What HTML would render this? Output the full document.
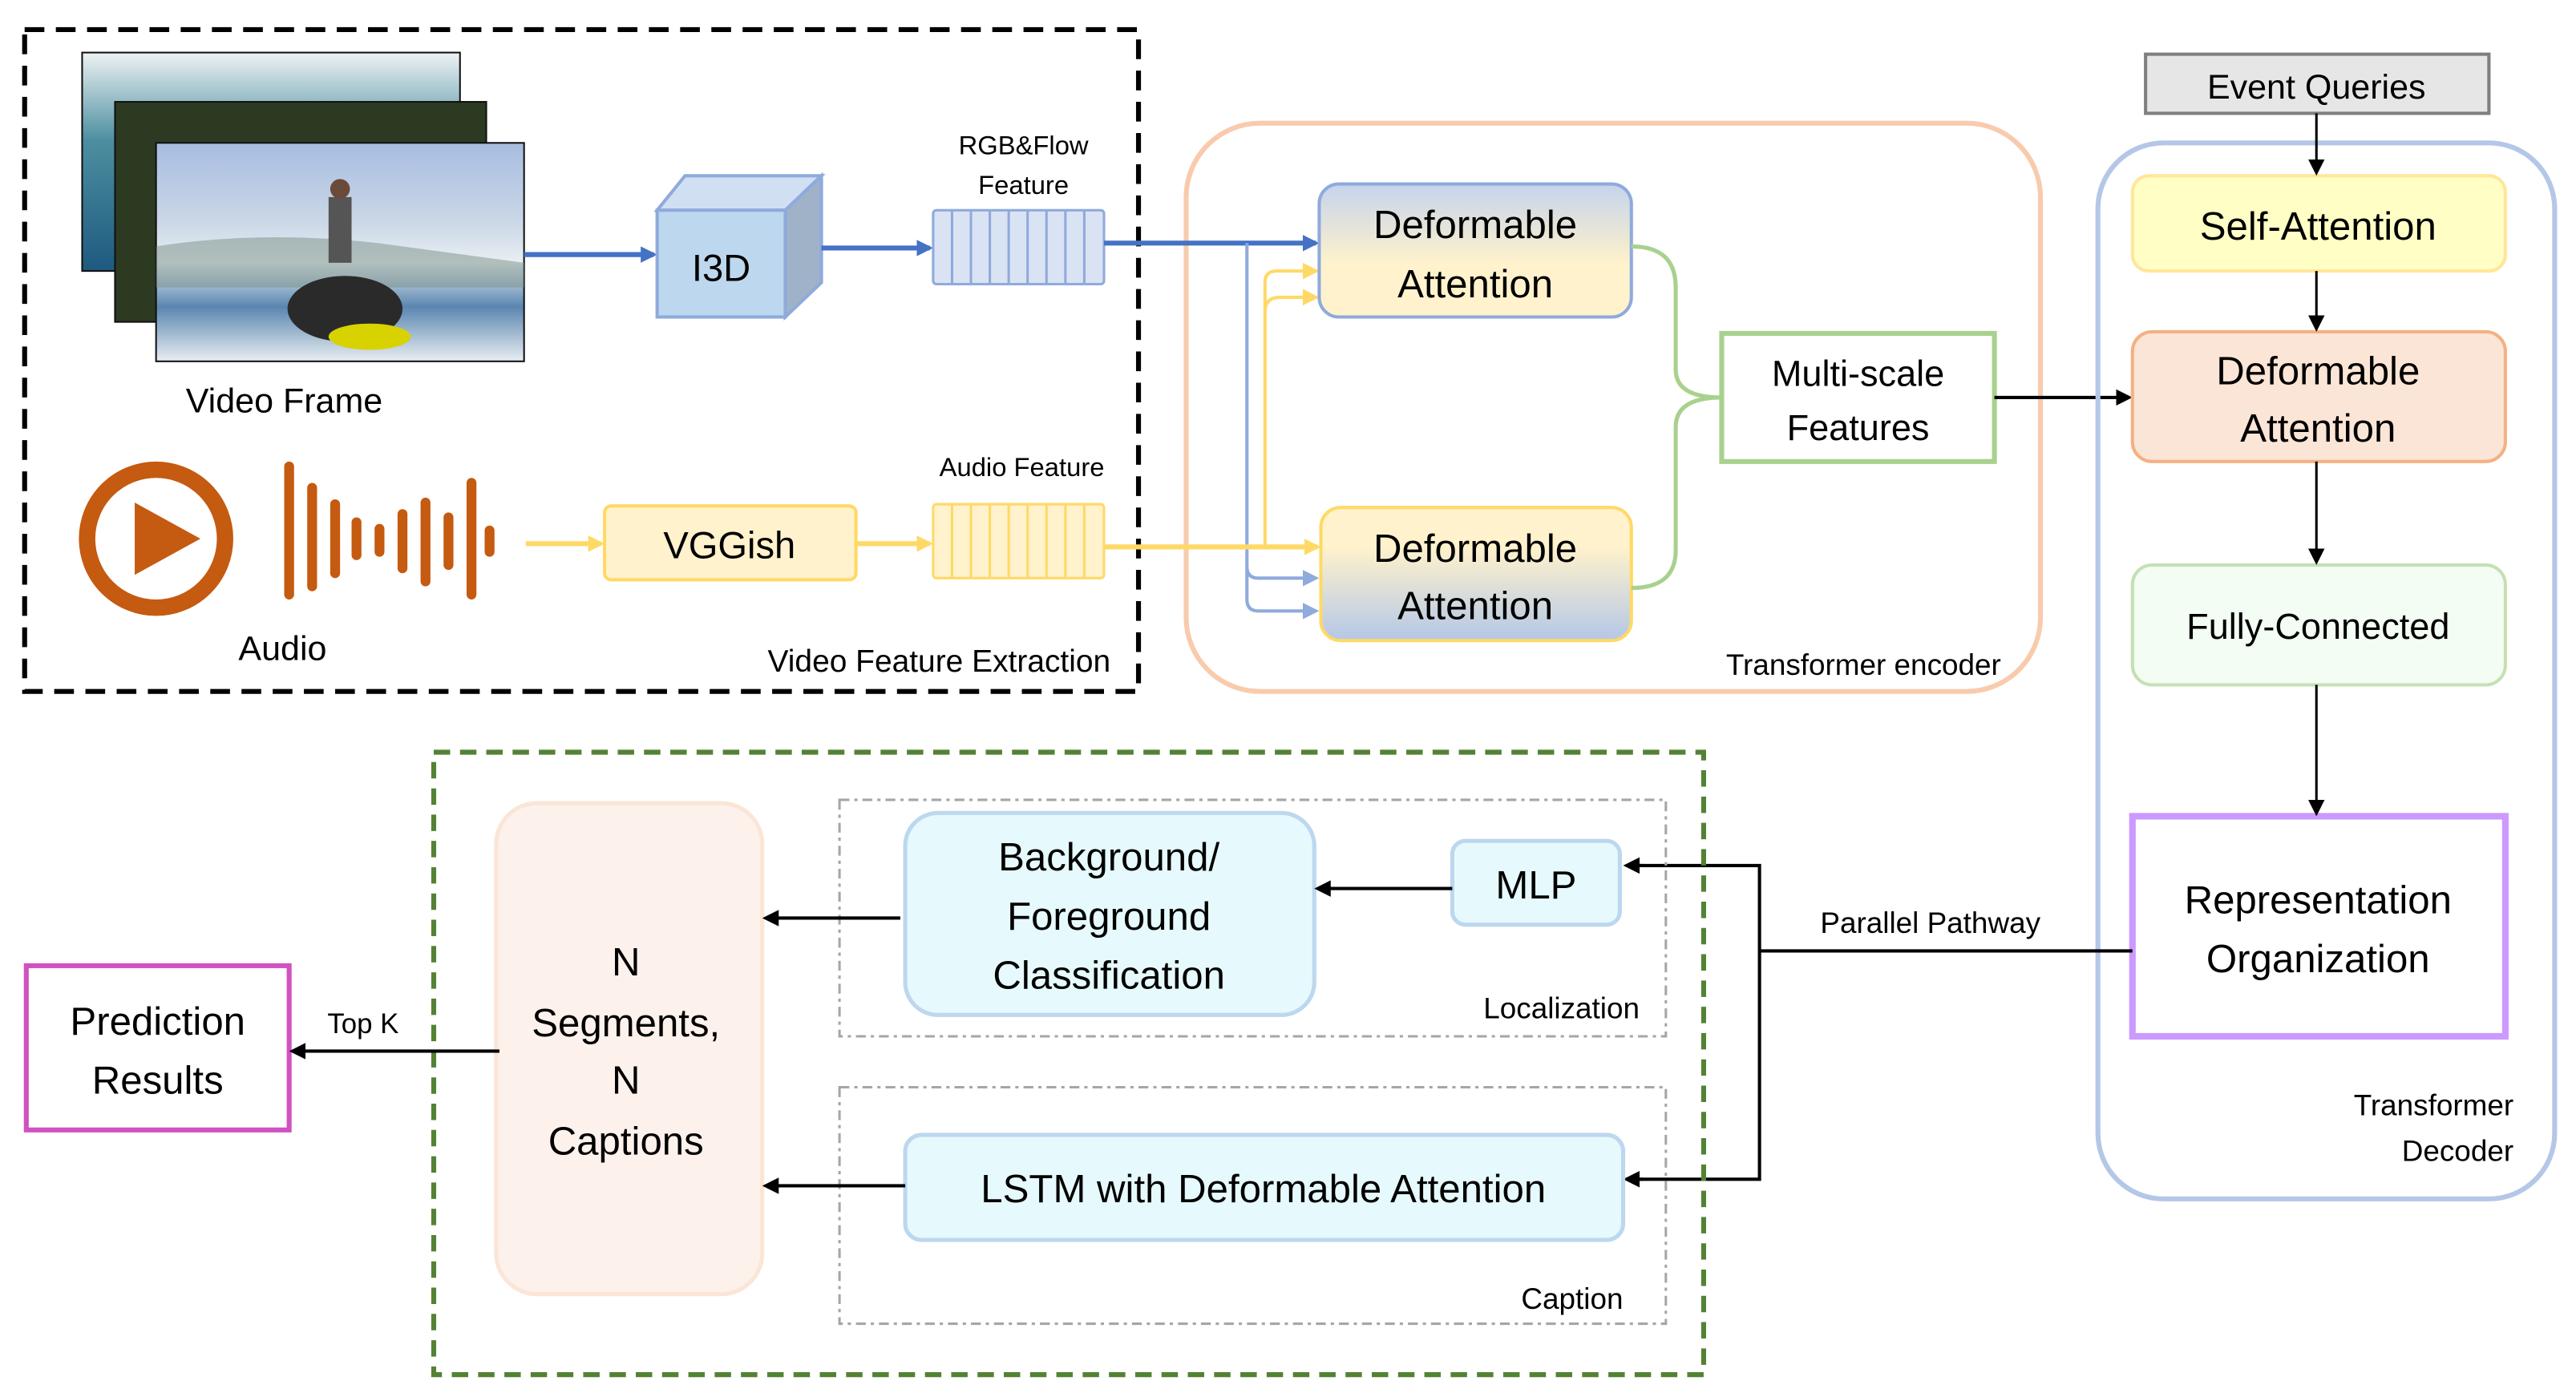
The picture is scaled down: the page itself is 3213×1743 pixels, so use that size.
<!DOCTYPE html>
<html><head><meta charset="utf-8"><style>
html,body{margin:0;padding:0;background:#fff;}
svg{display:block;}
text{font-family:"Liberation Sans",sans-serif;fill:#000;}
</style></head><body>
<svg width="3213" height="1743" viewBox="0 0 1568 850.6" xmlns="http://www.w3.org/2000/svg">
<defs>
<marker id="ab" markerWidth="10" markerHeight="10" refX="8" refY="5" orient="auto" markerUnits="userSpaceOnUse"><path d="M0,0 L10,5 L0,10 z" fill="#4472c4"/></marker>
<marker id="alb" markerWidth="10" markerHeight="10" refX="8" refY="5" orient="auto" markerUnits="userSpaceOnUse"><path d="M0,0 L10,5 L0,10 z" fill="#8faadc"/></marker>
<marker id="ay" markerWidth="10" markerHeight="10" refX="8" refY="5" orient="auto" markerUnits="userSpaceOnUse"><path d="M0,0 L10,5 L0,10 z" fill="#ffd966"/></marker>
<marker id="ak" markerWidth="10" markerHeight="10" refX="8" refY="5" orient="auto" markerUnits="userSpaceOnUse"><path d="M0,0 L10,5 L0,10 z" fill="#000"/></marker>
<linearGradient id="gby" x1="0" y1="0" x2="0" y2="1"><stop offset="0" stop-color="#c5d3ec"/><stop offset="0.6" stop-color="#fff2cc"/></linearGradient>
<linearGradient id="gyb" x1="0" y1="0" x2="0" y2="1"><stop offset="0.3" stop-color="#fff2cc"/><stop offset="1" stop-color="#b4c7e7"/></linearGradient>
<linearGradient id="sky" x1="0" y1="0" x2="0" y2="1"><stop offset="0" stop-color="#a7bde0"/><stop offset="0.35" stop-color="#c9d6e6"/><stop offset="0.55" stop-color="#e8eef3"/><stop offset="0.75" stop-color="#5a86b0"/><stop offset="1" stop-color="#e9eef2"/></linearGradient>
<linearGradient id="surf" x1="0" y1="0" x2="0" y2="1"><stop offset="0" stop-color="#eef2f4"/><stop offset="0.4" stop-color="#4d8fa0"/><stop offset="1" stop-color="#1e5a80"/></linearGradient>
</defs>

<!-- Video feature extraction -->
<rect x="15" y="18" width="678" height="403" fill="none" stroke="#000" stroke-width="3" stroke-dasharray="12,7"/>
<rect x="50" y="32" width="230" height="133" fill="url(#surf)" stroke="#111" stroke-width="1"/>
<rect x="70" y="62" width="226" height="134" fill="#2c3a22" stroke="#111" stroke-width="1"/>
<rect x="95" y="87" width="224" height="133" fill="url(#sky)" stroke="#111" stroke-width="1"/>
<path d="M95,150 Q160,140 230,148 L319,160 L319,175 L95,175 z" fill="#7a8f86" opacity="0.5"/>
<ellipse cx="210" cy="188" rx="35" ry="20" fill="#2a2a2a"/>
<ellipse cx="225" cy="205" rx="25" ry="8" fill="#d7d200"/>
<rect x="200" y="120" width="14" height="40" fill="#555"/>
<circle cx="207" cy="115" r="6" fill="#6b4a3a"/>
<text x="173" y="251" font-size="21" text-anchor="middle">Video Frame</text>

<line x1="319" y1="155" x2="398" y2="155" stroke="#4472c4" stroke-width="3" marker-end="url(#ab)"/>
<polygon points="400,128 417,107 500,107 478,128" fill="#d0e0f2" stroke="#8faadc" stroke-width="2"/>
<polygon points="478,128 500,107 500,172 478,193" fill="#9fb2c8" stroke="#8faadc" stroke-width="2"/>
<rect x="400" y="128" width="78" height="65" fill="#bdd7ee" stroke="#8faadc" stroke-width="2"/>
<text x="439" y="171" font-size="23" text-anchor="middle">I3D</text>
<line x1="500" y1="151" x2="566" y2="151" stroke="#4472c4" stroke-width="3" marker-end="url(#ab)"/>
<g fill="#dae3f3" stroke="#8faadc" stroke-width="1.5">
<rect x="568" y="128" width="104" height="45" rx="2"/>
<line x1="579.5" y1="128" x2="579.5" y2="173"/><line x1="591" y1="128" x2="591" y2="173"/><line x1="602.5" y1="128" x2="602.5" y2="173"/><line x1="614" y1="128" x2="614" y2="173"/><line x1="625.5" y1="128" x2="625.5" y2="173"/><line x1="637" y1="128" x2="637" y2="173"/><line x1="648.5" y1="128" x2="648.5" y2="173"/><line x1="660" y1="128" x2="660" y2="173"/>
</g>
<text x="623" y="94" font-size="16" text-anchor="middle">RGB&amp;Flow</text>
<text x="623" y="118" font-size="16" text-anchor="middle">Feature</text>

<!-- audio -->
<circle cx="95" cy="328" r="42" fill="none" stroke="#c55a11" stroke-width="10"/>
<polygon points="82,306 82,350 122,328" fill="#c55a11"/>
<g stroke="#c55a11" stroke-width="6" stroke-linecap="round">
<line x1="176" y1="284" x2="176" y2="362"/><line x1="190" y1="297" x2="190" y2="357"/><line x1="204" y1="307" x2="204" y2="349"/><line x1="217" y1="318" x2="217" y2="338"/><line x1="231" y1="322" x2="231" y2="336"/><line x1="245" y1="313" x2="245" y2="346"/><line x1="259" y1="306" x2="259" y2="354"/><line x1="273" y1="315" x2="273" y2="344"/><line x1="287" y1="294" x2="287" y2="362"/><line x1="298" y1="323" x2="298" y2="336"/>
</g>
<text x="172" y="402" font-size="21" text-anchor="middle">Audio</text>
<line x1="320" y1="331" x2="366" y2="331" stroke="#ffd966" stroke-width="3" marker-end="url(#ay)"/>
<rect x="368" y="308" width="153" height="45" rx="4" fill="#fff2cc" stroke="#ffd966" stroke-width="2"/>
<text x="444" y="340" font-size="23" text-anchor="middle">VGGish</text>
<line x1="521" y1="331" x2="566" y2="331" stroke="#ffd966" stroke-width="3" marker-end="url(#ay)"/>
<g fill="#fff2cc" stroke="#ffd966" stroke-width="1.5">
<rect x="568" y="307" width="104" height="45" rx="2"/>
<line x1="579.5" y1="307" x2="579.5" y2="352"/><line x1="591" y1="307" x2="591" y2="352"/><line x1="602.5" y1="307" x2="602.5" y2="352"/><line x1="614" y1="307" x2="614" y2="352"/><line x1="625.5" y1="307" x2="625.5" y2="352"/><line x1="637" y1="307" x2="637" y2="352"/><line x1="648.5" y1="307" x2="648.5" y2="352"/><line x1="660" y1="307" x2="660" y2="352"/>
</g>
<text x="622" y="290" font-size="16" text-anchor="middle">Audio Feature</text>
<text x="676" y="409" font-size="19" text-anchor="end">Video Feature Extraction</text>

<!-- Transformer encoder -->
<rect x="722" y="75" width="520" height="346" rx="45" fill="none" stroke="#f8cbad" stroke-width="3"/>
<text x="1218" y="411" font-size="18" text-anchor="end">Transformer encoder</text>
<line x1="672" y1="148" x2="801" y2="148" stroke="#4472c4" stroke-width="3" marker-end="url(#ab)"/>
<path d="M759,148 L759,345 Q759,352 766,352 L801,352" fill="none" stroke="#8faadc" stroke-width="2" marker-end="url(#alb)"/>
<path d="M759,345 L759,365 Q759,372 766,372 L801,372" fill="none" stroke="#8faadc" stroke-width="2" marker-end="url(#alb)"/>
<line x1="672" y1="333" x2="802" y2="333" stroke="#ffd966" stroke-width="3" marker-end="url(#ay)"/>
<path d="M770,333 L770,172 Q770,165 777,165 L801,165" fill="none" stroke="#ffd966" stroke-width="2" marker-end="url(#ay)"/>
<path d="M770,190 Q770,181 779,181 L801,181" fill="none" stroke="#ffd966" stroke-width="2" marker-end="url(#ay)"/>
<rect x="803" y="112" width="190" height="81" rx="12" fill="url(#gby)" stroke="#8faadc" stroke-width="2"/>
<text x="898" y="145" font-size="24" text-anchor="middle">Deformable</text>
<text x="898" y="181" font-size="24" text-anchor="middle">Attention</text>
<rect x="804" y="309" width="189" height="81" rx="12" fill="url(#gyb)" stroke="#ffd966" stroke-width="2"/>
<text x="898" y="342" font-size="24" text-anchor="middle">Deformable</text>
<text x="898" y="377" font-size="24" text-anchor="middle">Attention</text>
<path d="M993,150 Q1020,150 1020,175 L1020,225 Q1020,242 1048,242 Q1020,242 1020,260 L1020,335 Q1020,358 993,358" fill="none" stroke="#a9d18e" stroke-width="2.5"/>
<rect x="1048" y="203" width="166" height="78" fill="#fff" stroke="#a9d18e" stroke-width="3"/>
<text x="1131" y="235" font-size="22" text-anchor="middle">Multi-scale</text>
<text x="1131" y="268" font-size="22" text-anchor="middle">Features</text>
<line x1="1214" y1="242" x2="1296" y2="242" stroke="#000" stroke-width="2" marker-end="url(#ak)"/>

<!-- Decoder -->
<rect x="1306" y="33" width="209" height="36" fill="#e7e6e6" stroke="#7f7f7f" stroke-width="2"/>
<text x="1410" y="60" font-size="21" text-anchor="middle">Event Queries</text>
<rect x="1277" y="87" width="278" height="643" rx="40" fill="none" stroke="#b4c7e7" stroke-width="3"/>
<text x="1530" y="679" font-size="18" text-anchor="end">Transformer</text>
<text x="1530" y="707" font-size="18" text-anchor="end">Decoder</text>
<rect x="1298" y="107" width="227" height="58" rx="10" fill="#ffffc5" stroke="#ffe699" stroke-width="2"/>
<text x="1411" y="146" font-size="24" text-anchor="middle">Self-Attention</text>
<rect x="1298" y="202" width="227" height="79" rx="12" fill="#fbe5d6" stroke="#f4b183" stroke-width="2"/>
<text x="1411" y="234" font-size="24" text-anchor="middle">Deformable</text>
<text x="1411" y="269" font-size="24" text-anchor="middle">Attention</text>
<rect x="1298" y="344" width="227" height="73" rx="12" fill="#f3fdf3" stroke="#c5e0b4" stroke-width="2"/>
<text x="1411" y="389" font-size="22" text-anchor="middle">Fully-Connected</text>
<rect x="1298" y="497" width="227" height="134" fill="#fff" stroke="#cc99ff" stroke-width="4"/>
<text x="1411" y="556" font-size="24" text-anchor="middle">Representation</text>
<text x="1411" y="592" font-size="24" text-anchor="middle">Organization</text>
<g stroke="#000" stroke-width="1.5">
<line x1="1410" y1="69" x2="1410" y2="105" marker-end="url(#ak)"/>
<line x1="1410" y1="165" x2="1410" y2="200" marker-end="url(#ak)"/>
<line x1="1410" y1="281" x2="1410" y2="342" marker-end="url(#ak)"/>
<line x1="1410" y1="417" x2="1410" y2="495" marker-end="url(#ak)"/>
</g>

<!-- Parallel pathway -->
<polyline points="1298,579 1071,579" fill="none" stroke="#000" stroke-width="2"/>
<polyline points="990,527 1071,527 1071,718 990,718" fill="none" stroke="#000" stroke-width="2"/>
<line x1="1000" y1="527" x2="990" y2="527" stroke="#000" stroke-width="2" marker-end="url(#ak)"/>
<line x1="1000" y1="718" x2="990" y2="718" stroke="#000" stroke-width="2" marker-end="url(#ak)"/>
<text x="1175" y="568" font-size="18" text-anchor="middle">Parallel Pathway</text>

<!-- Heads -->
<rect x="264" y="458" width="773" height="379" fill="none" stroke="#548235" stroke-width="3" stroke-dasharray="10,6"/>
<rect x="511" y="487" width="503" height="144" fill="none" stroke="#a6a6a6" stroke-width="1.5" stroke-dasharray="6,3,2,3"/>
<text x="998" y="620" font-size="18" text-anchor="end">Localization</text>
<rect x="511" y="662" width="503" height="144" fill="none" stroke="#a6a6a6" stroke-width="1.5" stroke-dasharray="6,3,2,3"/>
<text x="988" y="797" font-size="18" text-anchor="end">Caption</text>
<rect x="884" y="512" width="102" height="51" rx="8" fill="#e6f9fc" stroke="#bdd7ee" stroke-width="2.5"/>
<text x="935" y="547" font-size="24" text-anchor="middle">MLP</text>
<rect x="551" y="495" width="249" height="123" rx="20" fill="#e6f9fc" stroke="#bdd7ee" stroke-width="2.5"/>
<text x="675" y="530" font-size="24" text-anchor="middle">Background/</text>
<text x="675" y="566" font-size="24" text-anchor="middle">Foreground</text>
<text x="675" y="602" font-size="24" text-anchor="middle">Classification</text>
<line x1="884" y1="541" x2="802" y2="541" stroke="#000" stroke-width="2" marker-end="url(#ak)"/>
<rect x="551" y="691" width="437" height="64" rx="10" fill="#e6f9fc" stroke="#bdd7ee" stroke-width="2.5"/>
<text x="769" y="732" font-size="24" text-anchor="middle">LSTM with Deformable Attention</text>
<rect x="302" y="489" width="162" height="299" rx="25" fill="#fdf1ec" stroke="#fbe5d6" stroke-width="2.5"/>
<text x="381" y="594" font-size="24" text-anchor="middle">N</text>
<text x="381" y="631" font-size="24" text-anchor="middle">Segments,</text>
<text x="381" y="666" font-size="24" text-anchor="middle">N</text>
<text x="381" y="703" font-size="24" text-anchor="middle">Captions</text>
<line x1="548" y1="559" x2="466" y2="559" stroke="#000" stroke-width="2" marker-end="url(#ak)"/>
<line x1="551" y1="722" x2="466" y2="722" stroke="#000" stroke-width="2" marker-end="url(#ak)"/>
<rect x="16" y="588" width="160" height="100" fill="#fff" stroke="#d052c0" stroke-width="3"/>
<text x="96" y="630" font-size="24" text-anchor="middle">Prediction</text>
<text x="96" y="666" font-size="24" text-anchor="middle">Results</text>
<line x1="304" y1="640" x2="178" y2="640" stroke="#000" stroke-width="2" marker-end="url(#ak)"/>
<text x="221" y="629" font-size="17" text-anchor="middle">Top K</text>
</svg>
</body></html>
